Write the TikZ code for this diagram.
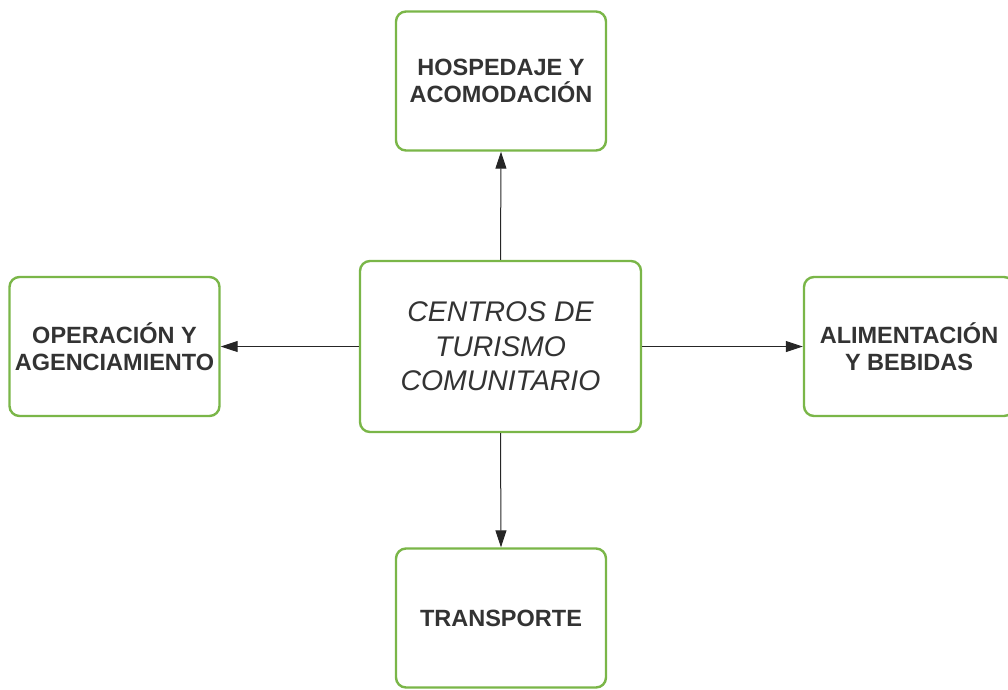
\documentclass[tikz,border=0pt]{standalone}
\usepackage{fontspec}
\setmainfont{Liberation Sans}
\usetikzlibrary{arrows.meta}
\definecolor{boxgreen}{HTML}{7AB648}
\definecolor{txtgray}{HTML}{333333}
\tikzset{
  sidebox/.style={draw=boxgreen, line width=2.4pt, rounded corners=10pt, fill=white,
    minimum width=210pt, minimum height=139pt, align=center, text=txtgray,
    font=\fontsize{23.5}{27.6}\selectfont\bfseries, inner sep=0pt},
  mainbox/.style={draw=boxgreen, line width=2.4pt, rounded corners=10pt, fill=white,
    minimum width=281pt, minimum height=171pt, align=center, text=txtgray,
    font=\fontsize{28.4}{34.5}\selectfont\itshape, inner sep=0pt},
  conn/.style={draw=black!85, line width=1pt, -{Triangle[length=17pt,width=11pt]}}
}
\begin{document}
\begin{tikzpicture}[x=1pt,y=-1pt]
\path[use as bounding box] (0,0) rectangle (1008,689);
\node[mainbox] (c) at (500.5,346.5) {CENTROS DE\\TURISMO\\COMUNITARIO};
\node[sidebox] (t) at (501,81) {HOSPEDAJE Y\\ACOMODACIÓN};
\node[sidebox] (l) at (114.5,346.5) {OPERACIÓN Y\\AGENCIAMIENTO};
\node[sidebox] (r) at (909,346.5) {ALIMENTACIÓN\\Y BEBIDAS};
\node[sidebox] (b) at (501,618) {TRANSPORTE};
\draw[conn] (c.north) -- (t.south);
\draw[conn] (c.west) -- (l.east);
\draw[conn] (c.east) -- (r.west);
\draw[conn] (c.south) -- (b.north);
\end{tikzpicture}
\end{document}
